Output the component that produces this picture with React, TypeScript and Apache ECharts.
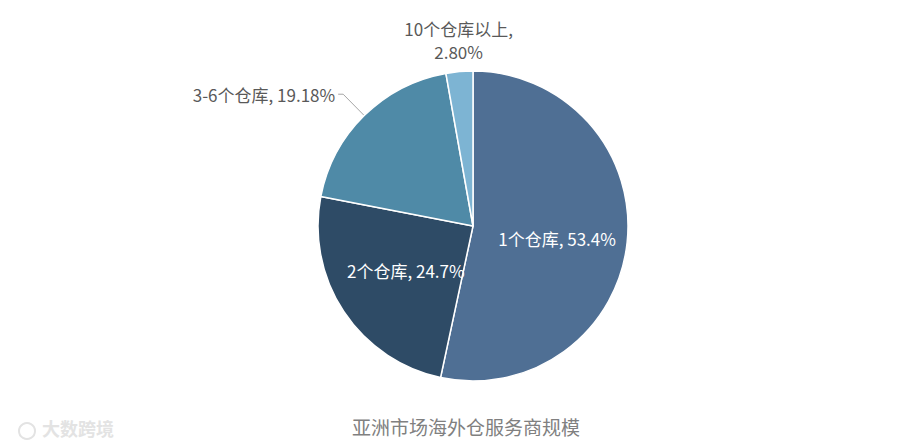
import React, { useEffect, useRef } from "react";
import * as echarts from "echarts";

const categories = ["1个仓库", "2个仓库", "3-6个仓库", "10个仓库以上"];
const values = [53.4, 24.7, 19.18, 2.8];
const valueLabels = ["53.4%", "24.7%", "19.18%", "2.80%"];
const colors = ["#4f6f94", "#2e4b66", "#4f8aa7", "#7db4d3"];
const title = "亚洲市场海外仓服务商规模";

export default function App() {
  const ref = useRef<HTMLDivElement>(null);
  useEffect(() => {
    const chart = echarts.init(ref.current!, null, { renderer: "svg" });
    const font = "'Noto Sans CJK SC', 'Noto Sans', sans-serif";
    const data = categories.map((name, i) => {
      const item: any = {
        name,
        value: values[i],
        itemStyle: { color: colors[i] },
      };
      if (i === 2) {
        item.label = {
          position: "outside",
          color: "#595959",
          distanceToLabelLine: 3,
          formatter: () => `${name}, ${valueLabels[i]}`,
        };
        item.labelLine = {
          show: true,
          length: 30,
          length2: 5,
          lineStyle: { color: "#a6a6a6", width: 1 },
        };
      }
      if (i === 3) {
        item.label = {
          position: "outside",
          color: "#595959",
          lineHeight: 23,
          formatter: () => `${name},\n${valueLabels[i]}`,
        };
        item.labelLine = { show: false, length: 9, length2: 0 };
      }
      return item;
    });
    chart.setOption({
      animation: false,
      backgroundColor: "#ffffff",
      title: {
        text: title,
        left: 347,
        top: 412,
        textStyle: {
          fontFamily: font,
          fontSize: 19,
          fontWeight: "normal",
          color: "#808080",
        },
      },
      graphic: [
        {
          type: "text",
          left: 42,
          top: 419,
          style: {
            text: "大数跨境",
            fontFamily: font,
            fontSize: 18,
            fontWeight: "bold",
            fill: "#e3e3e3",
          },
        },
        {
          type: "circle",
          shape: { cx: 27, cy: 431, r: 8 },
          style: { fill: "none", stroke: "#e3e3e3", lineWidth: 2 },
        },
      ],
      series: [
        {
          type: "pie",
          center: [473, 226],
          radius: 155,
          startAngle: 90,
          clockwise: true,
          avoidLabelOverlap: false,
          itemStyle: { borderColor: "#ffffff", borderWidth: 1.5 },
          label: {
            show: true,
            position: "inside",
            color: "#ffffff",
            fontFamily: font,
            fontSize: 17,
            formatter: (p: any) => `${p.name}, ${valueLabels[p.dataIndex]}`,
          },
          labelLayout: (p: any) => {
            if (p.dataIndex === 3 && p.labelLinePoints) {
              const pt = p.labelLinePoints[2] || p.labelLinePoints[1];
              return { x: pt[0], y: pt[1], align: "center", verticalAlign: "bottom" };
            }
            if (p.dataIndex === 0) {
              return { dx: 4, dy: 4 };
            }
            return {};
          },
          data,
        },
      ],
    });
    return () => chart.dispose();
  }, []);
  return (
    <div
      ref={ref}
      style={{ position: "fixed", left: 0, top: 0, width: 900, height: 447 }}
    />
  );
}
